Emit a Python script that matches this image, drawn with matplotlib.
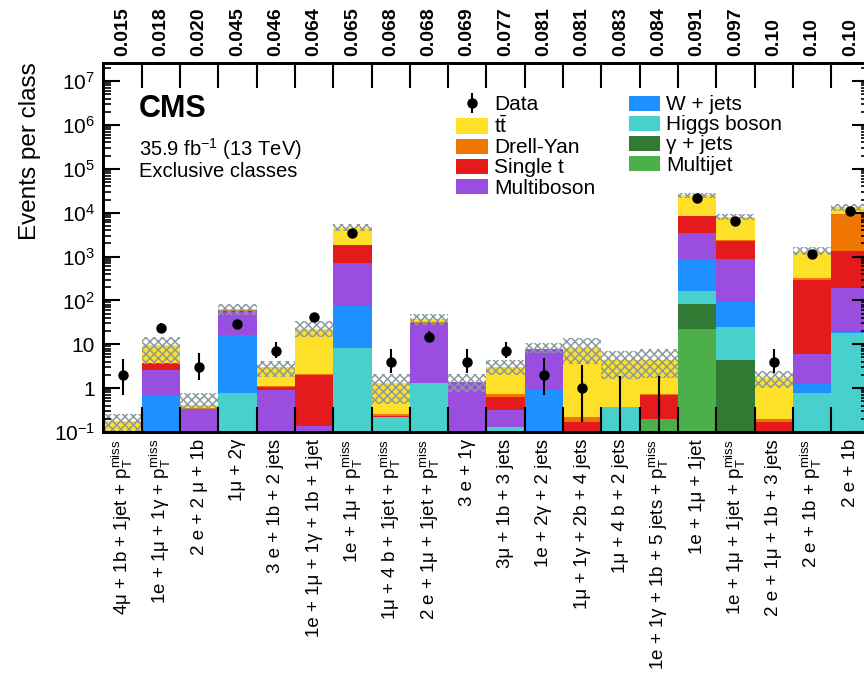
import numpy as np
import matplotlib
matplotlib.use('Agg')
import matplotlib.pyplot as plt
from matplotlib.ticker import FixedLocator, LogLocator, NullFormatter

plt.rcParams['font.family'] = ['Liberation Sans', 'DejaVu Sans']
plt.rcParams['mathtext.fontset'] = 'custom'
plt.rcParams['mathtext.rm'] = 'Liberation Sans'
plt.rcParams['mathtext.it'] = 'Liberation Sans:italic'
plt.rcParams['mathtext.bf'] = 'Liberation Sans:bold'
plt.rcParams['hatch.linewidth'] = 1.1

PT = r'$\mathrm{p}_{\mathrm{T}}^{\mathrm{miss}}$'

# event classes (bottom axis) and p-values (top axis)
classes = [
    '4μ + 1b + 1jet + ' + PT,
    '1e + 1μ + 1γ + ' + PT,
    '2 e + 2 μ + 1b',
    '1μ + 2γ',
    '3 e + 1b + 2 jets',
    '1e + 1μ + 1γ + 1b + 1jet',
    '1e + 1μ + ' + PT,
    '1μ + 4 b + 1jet + ' + PT,
    '2 e + 1μ + 1jet + ' + PT,
    '3 e + 1γ',
    '3μ + 1b + 3 jets',
    '1e + 2γ + 2 jets',
    '1μ + 1γ + 2b + 4 jets',
    '1μ + 4 b + 2 jets',
    '1e + 1γ + 1b + 5 jets + ' + PT,
    '1e + 1μ + 1jet',
    '1e + 1μ + 1jet + ' + PT,
    '2 e + 1μ + 1b + 3 jets',
    '2 e + 1b + ' + PT,
    '2 e + 1b',
]
pvalues = ['0.015', '0.018', '0.020', '0.045', '0.046', '0.064', '0.065', '0.068',
           '0.068', '0.069', '0.077', '0.081', '0.081', '0.083', '0.084', '0.091',
           '0.097', '0.10', '0.10', '0.10']

# background processes, stacked bottom -> top
multijet   = [0, 0, 0, 0, 0, 0, 0, 0, 0, 0, 0, 0, 0, 0, 0.2, 21.8, 0, 0, 0, 0]
gamma_jets = [0, 0, 0, 0, 0, 0, 0, 0, 0, 0, 0, 0, 0, 0, 0, 60, 4.4, 0, 0, 0]
higgs      = [0, 0, 0, 0.79, 0, 0, 8.1, 0.22, 1.33, 0, 0.13, 0, 0, 0.37, 0, 81, 20.6, 0, 0.76, 17.7]
wjets      = [0, 0.66, 0, 15.4, 0, 0, 66, 0, 0, 0, 0, 0.9, 0, 0, 0, 700, 65, 0, 0.46, 1.6]
multiboson = [0.02, 2.0, 0.33, 39, 0.9, 0.14, 646, 0, 27.7, 1.4, 0.19, 6.8, 0, 0, 0, 2680, 770, 0, 4.7, 168]
single_t   = [0, 1.0, 0.01, 2, 0.18, 1.85, 1080, 0.01, 1.5, 0, 0.3, 0.2, 0.17, 0, 0.5, 4900, 1380, 0.17, 284, 1143]
drell_yan  = [0, 0.05, 0.02, 3, 0.05, 0.1, 50, 0.03, 1.0, 0, 0.1, 0.1, 0.05, 0, 0.05, 200, 100, 0.03, 40, 7920]
ttbar      = [0.16, 5.9, 0.06, 3, 1.9, 20, 2750, 1.04, 5.5, 0, 2.3, 0, 7.9, 4.0, 3.7, 16500, 5700, 1.5, 950, 4250]

# systematic uncertainty band (lower / upper edge)
unc_lo = [0.06, 3.5, 0.33, 46, 1.8, 15, 3800, 0.43, 27, 0.83, 2.0, 6.2, 3.5, 1.6, 1.7, 22000, 7000, 1.0, 1100, 11000]
unc_hi = [0.26, 15, 0.78, 81, 4.1, 34, 5500, 2.1, 48, 2.1, 4.5, 10.8, 13.6, 7.2, 7.7, 28000, 9250, 2.4, 1660, 15500]

# observed data with error bar ends
data    = [2, 24, 3, 29, 7, 41, 3400, 4, 15, 4, 7, 2, 1, 0, 0, 22000, 6400, 4, 1150, 11200]
data_lo = [0.7, 19, 1.5, 24, 4.8, 35, 3340, 2.2, 11, 2.2, 4.8, 0.7, 0.17, 0, 0, 21850, 6320, 2.2, 1115, 11090]
data_hi = [4.6, 30, 6.2, 35, 11.4, 48, 3460, 7.7, 20, 7.7, 11.4, 4.8, 3.3, 1.8, 1.8, 22150, 6480, 7.7, 1185, 11310]

ytick_vals = [0.1, 1, 10, 1e2, 1e3, 1e4, 1e5, 1e6, 1e7]
ytick_labels = ['$10^{-1}$', '1', '10', '$10^{2}$', '$10^{3}$', '$10^{4}$',
                '$10^{5}$', '$10^{6}$', '$10^{7}$']

processes = [
    ('Multijet', multijet, '#4daf4a'),
    ('γ + jets', gamma_jets, '#317a33'),
    ('Higgs boson', higgs, '#48d1cc'),
    ('W + jets', wjets, '#1e90ff'),
    ('Multiboson', multiboson, '#994ee0'),
    ('Single t', single_t, '#e41a1c'),
    ('Drell-Yan', drell_yan, '#ef7600'),
    (r'$\mathrm{t\bar{t}}$', ttbar, '#fde027'),
]

n = len(classes)
centers = np.arange(n) + 0.5
edges = np.arange(n + 1)

fig = plt.figure(figsize=(8.64, 6.8), dpi=100)
ax = fig.add_axes([103.4 / 864, 1 - 432 / 680, 766 / 864, 369 / 680])
ax.set_yscale('log')

bottom = np.zeros(n)
handles = {}
for name, vals, col in processes:
    vals = np.array(vals, dtype=float)
    b = ax.bar(centers, vals, width=1.0, bottom=bottom, color=col, linewidth=0)
    handles[name] = b
    bottom = bottom + vals

lo = np.array(unc_lo)
hi = np.array(unc_hi)
ax.bar(centers, hi - lo, width=1.0, bottom=lo, fill=False, hatch='xxxx',
       edgecolor='#8a9a9f', linewidth=0)

d = np.array(data, dtype=float)
yerr = [d - np.array(data_lo), np.array(data_hi) - d]
eb = ax.errorbar(centers, np.where(d > 0, d, np.nan), yerr=yerr, fmt='o', color='black',
                 markersize=6.5, elinewidth=1.5, capsize=0)
# error bars of empty bins (no marker)
for x, up in zip(centers[d == 0], np.array(data_hi)[d == 0]):
    ax.plot([x, x], [1e-3, up], color='black', lw=1.5)

ax.set_xlim(0, n)
ax.set_ylim(0.1, 2.6e7)

# y axis
ax.yaxis.set_major_locator(FixedLocator(ytick_vals))
ax.set_yticklabels(ytick_labels, fontsize=15)
ax.yaxis.set_minor_locator(LogLocator(base=10, subs=np.arange(2, 10), numticks=20))
ax.yaxis.set_minor_formatter(NullFormatter())
ax.tick_params(axis='y', which='major', direction='in', length=12, width=1.5,
               right=True, pad=6)
ax.tick_params(axis='y', which='minor', direction='in', length=6, width=1.2, right=True)

# bottom x axis: ticks at bin edges, labels at bin centres
ax.set_xticks(edges)
ax.set_xticklabels([])
ax.set_xticks(centers, minor=True)
ax.set_xticklabels(classes, minor=True, rotation=90, fontsize=13.5)
ax.tick_params(axis='x', which='major', direction='in', length=18, width=1.5)
ax.tick_params(axis='x', which='minor', length=0, pad=5)

# top axis with p-values
ax2 = ax.twiny()
ax2.set_xlim(0, n)
ax2.set_xticks(edges)
ax2.set_xticklabels([])
ax2.set_xticks(centers, minor=True)
ax2.set_xticklabels(pvalues, minor=True, rotation=90, fontsize=14, fontweight='bold')
ax2.tick_params(axis='x', which='major', direction='in', length=18, width=1.5)
ax2.tick_params(axis='x', which='minor', length=0, pad=5)

for a in (ax, ax2):
    for s in a.spines.values():
        s.set_linewidth(2)

fig.text(30 / 864, 1 - 62 / 680, 'Events per class', rotation=90, ha='center',
         va='top', fontsize=17.5)

ax.text(0.046, 0.875, 'CMS', transform=ax.transAxes, fontsize=22, fontweight='bold',
        va='center', ha='left')
ax.text(0.046, 0.767, '35.9 fb$^{-1}$ (13 TeV)', transform=ax.transAxes, fontsize=14.5,
        va='center', ha='left')
ax.text(0.046, 0.707, 'Exclusive classes', transform=ax.transAxes, fontsize=14.5,
        va='center', ha='left')

leg_order = ['Data', r'$\mathrm{t\bar{t}}$', 'Drell-Yan', 'Single t', 'Multiboson',
             'W + jets', 'Higgs boson', 'γ + jets', 'Multijet']
leg_handles = [eb if k == 'Data' else handles[k] for k in leg_order]
fig.legend(leg_handles, leg_order, ncol=2, loc='upper left',
           bbox_to_anchor=(446 / 864, 1 - 85 / 680), frameon=False, fontsize=15,
           borderpad=0, handlelength=1.5, handleheight=0.75, handletextpad=0.3,
           labelspacing=0.05, columnspacing=1.6)

fig.savefig('out.png', dpi=100)
